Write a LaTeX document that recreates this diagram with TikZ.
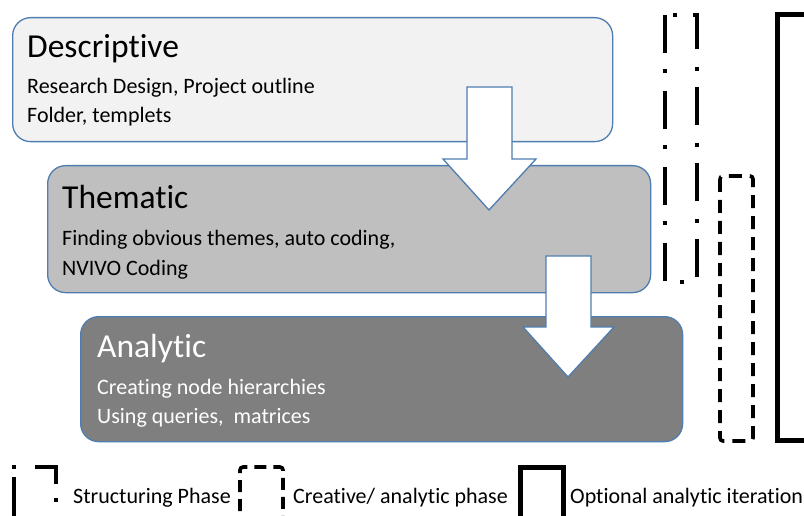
\documentclass[tikz,border=0pt]{standalone}
\usepackage{fontspec}
\setmainfont{Carlito}[Ligatures=NoCommon]
\begin{document}
\begin{tikzpicture}[x=1pt,y=-1pt,
  phase/.style={draw=blueline,line width=1.3pt,rounded corners=18pt,anchor=north west,inner sep=0pt},
  title/.style={anchor=base west,font=\fontsize{33.5}{36}\selectfont,inner sep=0pt},
  detail/.style={anchor=base west,font=\fontsize{22}{24}\selectfont,inner sep=0pt},
  legendtext/.style={anchor=base west,font=\fontsize{22}{24}\selectfont,inner sep=0pt},
  downarrow/.style={draw=blueline,line width=1.3pt,fill=white,line join=miter},
  structuring/.style={draw=black,line width=3.6pt,dash pattern=on 38pt off 16pt on 4pt off 18pt},
  creative/.style={draw=black,line width=3.6pt,dash pattern=on 13pt off 8pt,rounded corners=3pt},
  optional/.style={draw=black,line width=5pt}]
\definecolor{blueline}{HTML}{4F7DB0}
\definecolor{fillA}{HTML}{F2F2F2}
\definecolor{fillB}{HTML}{BFBFBF}
\definecolor{fillC}{HTML}{7F7F7F}
\useasboundingbox (0,0) rectangle (804,516);
\clip (0,0) rectangle (804,516);

% phase boxes
\node[phase,fill=fillA,minimum width=600pt,minimum height=124pt] (desc) at (12,17) {};
\node[title] (descT) at (27,58) {Descriptive};
\node[detail] (descA) at (27,94) {Research Design, Project outline};
\node[detail] (descB) at (27,123) {Folder, templets};

\node[phase,fill=fillB,minimum width=603pt,minimum height=127pt] (them) at (47,165) {};
\node[title] (themT) at (62,208) {Thematic};
\node[detail] (themA) at (62,246) {Finding obvious themes, auto coding,};
\node[detail] (themB) at (62,275) {NVIVO Coding};

% first arrow, from descriptive into thematic
\draw[downarrow] (467,87) -- (512,87) -- (512,159) -- (536,159) -- (489,210)
  -- (443,159) -- (467,159) -- cycle;

\node[phase,fill=fillC,minimum width=602pt,minimum height=125pt] (anal) at (80,316) {};
\node[title,text=white] (analT) at (97,357) {Analytic};
\node[detail,text=white] (analA) at (97,394) {Creating node hierarchies};
\node[detail,text=white] (analB) at (97,423) {Using queries,~ matrices};

% second arrow, from thematic into analytic
\draw[downarrow] (546,256) -- (591,256) -- (591,327) -- (614,327) -- (568,377)
  -- (523,327) -- (546,327) -- cycle;

% phase brackets on the right
\draw[structuring] (665,15) -- (665,282) -- (697,282) -- (697,15) -- cycle;
\draw[creative] (720,176) rectangle (753,441);
\draw[optional] (777,15) rectangle (830,440);

% legend
\draw[structuring,dash pattern=on 0pt off 28pt on 4pt off 14pt on 38pt off 19pt on 4pt off 8pt on 60pt off 10pt]
  (56,530) -- (56,467) -- (14,467) -- (14,530);
\node[legendtext] (legA) at (73,503) {Structuring Phase};
\draw[creative,dash pattern=on 12pt off 7pt] (240,530) -- (240,467) -- (283,467) -- (283,530);
\node[legendtext] (legB) at (293,503) {Creative/ analytic phase};
\draw[optional] (520,530) -- (520,467) -- (563,467) -- (563,530);
\node[legendtext] (legC) at (570,503) {Optional analytic iteration};
\end{tikzpicture}
\end{document}
